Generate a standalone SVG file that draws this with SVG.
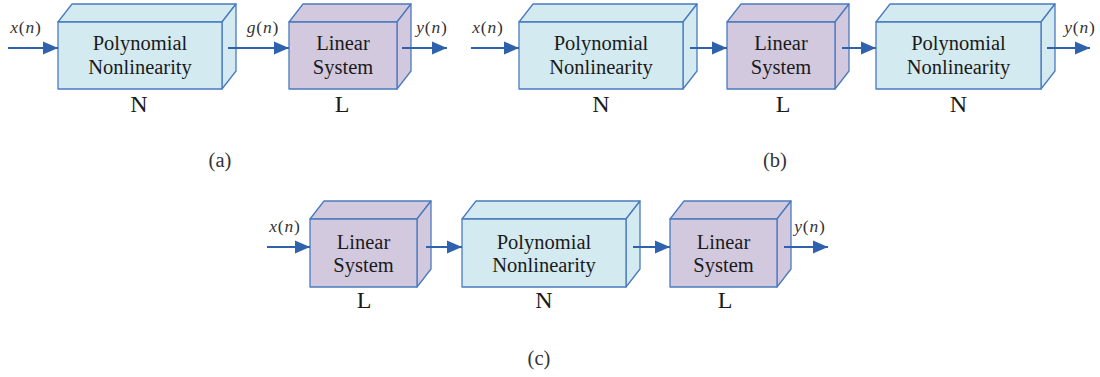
<svg xmlns="http://www.w3.org/2000/svg" width="1100" height="377" viewBox="0 0 1100 377">
<defs>
<style>
.poly{fill:#d3eaf0;stroke:#4a7bbf;stroke-width:1.3;stroke-linejoin:round}
.lin{fill:#d2c9df;stroke:#4a7bbf;stroke-width:1.3;stroke-linejoin:round}
text{font-family:'Liberation Serif','DejaVu Serif','Times New Roman',serif}
.t{font-size:20.5px;fill:#1a1a1a;text-anchor:middle}
.lab{font-size:24px;fill:#1a1a1a;text-anchor:middle}
.sig{font-size:17.5px;fill:#333;text-anchor:middle;letter-spacing:0.8px}
.cap{font-size:20.5px;fill:#333;text-anchor:middle}
.c{stroke:#2f62ad;stroke-width:1.8;fill:none;marker-end:url(#ah)}
</style>
<marker id="ah" markerUnits="userSpaceOnUse" markerWidth="16" markerHeight="14" refX="15" refY="7" orient="auto">
<path d="M0,0.5 L15,7 L0,13.5 z" fill="#2f62ad"/>
</marker>
</defs>
<rect width="1100" height="377" fill="#ffffff"/>

<!-- panel (a) -->
<g id="a-poly">
<path class="poly" d="M58,22 L72,4 L236,4 L222,22 Z"/>
<path class="poly" d="M222,22 L236,4 L236,71 L222,89 Z"/>
<rect class="poly" x="58" y="22" width="164" height="67"/>
<text class="t" x="140" y="50">Polynomial</text>
<text class="t" x="140" y="74">Nonlinearity</text>
<text class="lab" x="139" y="112">N</text>
</g>
<g id="a-lin">
<path class="lin" d="M289,22 L303,4 L411,4 L397,22 Z"/>
<path class="lin" d="M397,22 L411,4 L411,71 L397,89 Z"/>
<rect class="lin" x="289" y="22" width="108" height="67"/>
<text class="t" x="343" y="50">Linear</text>
<text class="t" x="343" y="74">System</text>
<text class="lab" x="342" y="112">L</text>
</g>

<!-- panel (b) -->
<g id="b-poly1">
<path class="poly" d="M519,22 L533,4 L697,4 L683,22 Z"/>
<path class="poly" d="M683,22 L697,4 L697,71 L683,89 Z"/>
<rect class="poly" x="519" y="22" width="164" height="67"/>
<text class="t" x="601" y="50">Polynomial</text>
<text class="t" x="601" y="74">Nonlinearity</text>
<text class="lab" x="601" y="112">N</text>
</g>
<g id="b-lin">
<path class="lin" d="M727,22 L741,4 L849,4 L835,22 Z"/>
<path class="lin" d="M835,22 L849,4 L849,71 L835,89 Z"/>
<rect class="lin" x="727" y="22" width="108" height="67"/>
<text class="t" x="781" y="50">Linear</text>
<text class="t" x="781" y="74">System</text>
<text class="lab" x="783" y="112">L</text>
</g>
<g id="b-poly2">
<path class="poly" d="M876,22 L890,4 L1055,4 L1041,22 Z"/>
<path class="poly" d="M1041,22 L1055,4 L1055,71 L1041,89 Z"/>
<rect class="poly" x="876" y="22" width="165" height="67"/>
<text class="t" x="958.5" y="50">Polynomial</text>
<text class="t" x="958.5" y="74">Nonlinearity</text>
<text class="lab" x="958.5" y="112">N</text>
</g>

<!-- panel (c) -->
<g id="c-lin1">
<path class="lin" d="M310,219 L324,201 L431,201 L417,219 Z"/>
<path class="lin" d="M417,219 L431,201 L431,269 L417,287 Z"/>
<rect class="lin" x="310" y="219" width="107" height="68"/>
<text class="t" x="363.5" y="249">Linear</text>
<text class="t" x="363.5" y="272">System</text>
<text class="lab" x="364" y="308">L</text>
</g>
<g id="c-poly">
<path class="poly" d="M462,219 L476,201 L640,201 L626,219 Z"/>
<path class="poly" d="M626,219 L640,201 L640,269 L626,287 Z"/>
<rect class="poly" x="462" y="219" width="164" height="68"/>
<text class="t" x="544" y="249">Polynomial</text>
<text class="t" x="544" y="272">Nonlinearity</text>
<text class="lab" x="544" y="308">N</text>
</g>
<g id="c-lin2">
<path class="lin" d="M670,219 L684,201 L791,201 L777,219 Z"/>
<path class="lin" d="M777,219 L791,201 L791,269 L777,287 Z"/>
<rect class="lin" x="670" y="219" width="107" height="68"/>
<text class="t" x="723.5" y="249">Linear</text>
<text class="t" x="723.5" y="272">System</text>
<text class="lab" x="725" y="308">L</text>
</g>

<g id="connectors">
<line class="c" x1="8" y1="48" x2="58" y2="48"/>
<line class="c" x1="228" y1="48" x2="289" y2="48"/>
<line class="c" x1="402" y1="48" x2="447" y2="48"/>
<line class="c" x1="471" y1="48" x2="519" y2="48"/>
<line class="c" x1="690" y1="48" x2="727" y2="48"/>
<line class="c" x1="842" y1="48" x2="876" y2="48"/>
<line class="c" x1="1047" y1="48" x2="1090" y2="48"/>
<line class="c" x1="267" y1="247" x2="310" y2="247"/>
<line class="c" x1="426" y1="247" x2="462" y2="247"/>
<line class="c" x1="633" y1="247" x2="670" y2="247"/>
<line class="c" x1="784" y1="247" x2="828" y2="247"/>
</g>

<g id="signal-labels">
<text class="sig" x="26" y="33"><tspan font-style="italic">x</tspan>(<tspan font-style="italic">n</tspan>)</text>
<text class="sig" x="263" y="33"><tspan font-style="italic">g</tspan>(<tspan font-style="italic">n</tspan>)</text>
<text class="sig" x="432" y="33"><tspan font-style="italic">y</tspan>(<tspan font-style="italic">n</tspan>)</text>
<text class="sig" x="488" y="33"><tspan font-style="italic">x</tspan>(<tspan font-style="italic">n</tspan>)</text>
<text class="sig" x="1080" y="33"><tspan font-style="italic">y</tspan>(<tspan font-style="italic">n</tspan>)</text>
<text class="sig" x="285" y="232"><tspan font-style="italic">x</tspan>(<tspan font-style="italic">n</tspan>)</text>
<text class="sig" x="810" y="232"><tspan font-style="italic">y</tspan>(<tspan font-style="italic">n</tspan>)</text>
</g>

<g id="captions">
<text class="cap" x="220" y="167">(a)</text>
<text class="cap" x="775" y="167">(b)</text>
<text class="cap" x="539" y="365">(c)</text>
</g>
</svg>
